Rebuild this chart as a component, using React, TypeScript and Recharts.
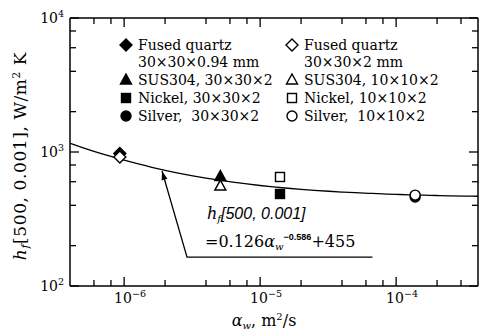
import React from 'react';
import { ScatterChart, Scatter, XAxis, YAxis, Customized } from 'recharts';

// Fitted correlation: h = 0.126 * a^-0.586 + 455
const FIT_COEF = 0.126;
const FIT_EXP = -0.586;
const FIT_OFFSET = 455;

const X_DOMAIN: [number, number] = [4e-7, 4e-4];
const Y_DOMAIN: [number, number] = [1e2, 1e4];

const xTicks = [6e-7, 8e-7, 1e-6, 2e-6, 4e-6, 6e-6, 8e-6, 1e-5, 2e-5, 4e-5, 6e-5, 8e-5, 1e-4, 2e-4, 3e-4];
const yTicks = [1e2, 2e2, 4e2, 6e2, 8e2, 1e3, 2e3, 4e3, 6e3, 8e3, 1e4];
const xMajor = [
  { value: 1e-6, exp: '−6' },
  { value: 1e-5, exp: '−5' },
  { value: 1e-4, exp: '−4' },
];
const yMajor = [
  { value: 1e2, exp: '2' },
  { value: 1e3, exp: '3' },
  { value: 1e4, exp: '4' },
];

// Measured points (a in m^2/s, h in W/m^2K)
const quartzThin = [{ a: 9.3e-7, h: 975 }];
const quartzThick = [{ a: 9.3e-7, h: 918 }];
const sus30 = [{ a: 5.1e-6, h: 656 }];
const sus10 = [{ a: 5.1e-6, h: 557 }];
const nickel30 = [{ a: 1.4e-5, h: 486 }];
const nickel10 = [{ a: 1.4e-5, h: 651 }];
const silver30 = [{ a: 1.38e-4, h: 462 }];
const silver10 = [{ a: 1.38e-4, h: 477 }];

// Sample abscissae for the fitted curve
const curveA = [
  4e-7, 5e-7, 6e-7, 7e-7, 8e-7, 1e-6, 1.25e-6, 1.6e-6, 2e-6, 2.5e-6, 3.2e-6, 4e-6, 5e-6,
  6.3e-6, 8e-6, 1e-5, 1.25e-5, 1.6e-5, 2e-5, 2.5e-5, 3.2e-5, 4e-5, 5e-5, 6.3e-5, 8e-5,
  1e-4, 1.25e-4, 1.6e-4, 2e-4, 2.5e-4, 3.2e-4, 4e-4,
];
const fitCurve = curveA.map((a) => ({ a, h: FIT_COEF * Math.pow(a, FIT_EXP) + FIT_OFFSET }));

// Leader line from the equation box to the curve (arrow tip first)
const leader = [
  { a: 1.9e-6, h: 721 },
  { a: 2.9e-6, h: 164 },
  { a: 6.7e-5, h: 164 },
];

const SERIF = "'DejaVu Serif', 'Liberation Serif', serif";
const SANS = "'Liberation Sans', 'DejaVu Sans', sans-serif";

type Kind = 'diamond' | 'triangle' | 'square' | 'circle';

function markerPath(kind: Kind, cx: number, cy: number, filled: boolean) {
  const fill = filled ? '#000' : '#fff';
  const common = { fill, stroke: '#000', strokeWidth: 1.4 };
  if (kind === 'diamond') {
    const r = 6;
    return <polygon points={`${cx},${cy - r} ${cx + r},${cy} ${cx},${cy + r} ${cx - r},${cy}`} {...common} />;
  }
  if (kind === 'triangle') {
    return <polygon points={`${cx},${cy - 6} ${cx + 5.5},${cy + 4} ${cx - 5.5},${cy + 4}`} {...common} />;
  }
  if (kind === 'square') {
    return <rect x={cx - 4.5} y={cy - 4.5} width={9} height={9} {...common} />;
  }
  return <circle cx={cx} cy={cy} r={5} {...common} />;
}

const shapeOf = (kind: Kind, filled: boolean) => (props: any) =>
  props.cx == null ? <g /> : markerPath(kind, props.cx, props.cy, filled);

const noShape = () => <g />;

const findMajor = (list: { value: number; exp: string }[], v: number) =>
  list.find((m) => Math.abs(m.value - v) / m.value < 1e-6);

const tickLen = (major: boolean) => (major ? 9 : 6);

const BottomTick = (props: any) => {
  const { x, y, payload } = props;
  const m = findMajor(xMajor, payload.value);
  return (
    <g>
      <line x1={x} x2={x} y1={y} y2={y - tickLen(!!m)} stroke="#000" strokeWidth={1.3} />
      {m && (
        <text x={x - 10} y={y + 17} fontFamily={SERIF} fontSize={14} fill="#000">
          10
          <tspan dy={-6} fontSize={9.5}>{m.exp}</tspan>
        </text>
      )}
    </g>
  );
};

const TopTick = (props: any) => {
  const { x, y, payload } = props;
  const m = findMajor(xMajor, payload.value);
  return <line x1={x} x2={x} y1={y} y2={y + tickLen(!!m)} stroke="#000" strokeWidth={1.3} />;
};

const LeftTick = (props: any) => {
  const { x, y, payload } = props;
  const m = findMajor(yMajor, payload.value);
  return (
    <g>
      <line x1={x} x2={x + tickLen(!!m)} y1={y} y2={y} stroke="#000" strokeWidth={1.3} />
      {m && (
        <text x={x - 6} y={y + 5} fontFamily={SERIF} fontSize={14} fill="#000" textAnchor="end">
          10
          <tspan dy={-6} fontSize={9.5}>{m.exp}</tspan>
        </text>
      )}
    </g>
  );
};

const RightTick = (props: any) => {
  const { x, y, payload } = props;
  const m = findMajor(yMajor, payload.value);
  return <line x1={x} x2={x - tickLen(!!m)} y1={y} y2={y} stroke="#000" strokeWidth={1.3} />;
};

const LeaderLine = (props: any) => {
  const pts: { x: number; y: number }[] = props.points || [];
  if (pts.length < 2) return <g />;
  const d = pts.map((p, i) => `${i === 0 ? 'M' : 'L'}${p.x},${p.y}`).join(' ');
  const [p0, p1] = pts;
  const ang = Math.atan2(p0.y - p1.y, p0.x - p1.x);
  const L = 9;
  const W = 3;
  const bx = p0.x - L * Math.cos(ang);
  const by = p0.y - L * Math.sin(ang);
  const nx = -Math.sin(ang) * W;
  const ny = Math.cos(ang) * W;
  return (
    <g>
      <path d={d} fill="none" stroke="#000" strokeWidth={1.3} />
      <polygon points={`${p0.x},${p0.y} ${bx + nx},${by + ny} ${bx - nx},${by - ny}`} fill="#000" />
    </g>
  );
};

const legendRows: { kind: Kind; left: string[]; right: string[]; y: number }[] = [
  { kind: 'diamond', left: ['Fused quartz', '30×30×0.94 mm'], right: ['Fused quartz', '30×30×2 mm'], y: 45 },
  { kind: 'triangle', left: ['SUS304, 30×30×2'], right: ['SUS304, 10×10×2'], y: 80 },
  { kind: 'square', left: ['Nickel, 30×30×2'], right: ['Nickel, 10×10×2'], y: 98 },
  { kind: 'circle', left: ['Silver,  30×30×2'], right: ['Silver,  10×10×2'], y: 116 },
];

const Overlay = () => (
  <g fill="#000">
    {legendRows.map((r) => (
      <g key={r.kind}>
        {markerPath(r.kind, 126, r.y, true)}
        {r.left.map((t, i) => (
          <text key={i} x={138} y={r.y + 5 + i * 17} fontSize={14} fontFamily={SERIF} xmlSpace="preserve">
            {t}
          </text>
        ))}
        {markerPath(r.kind, 292, r.y, false)}
        {r.right.map((t, i) => (
          <text key={i} x={304} y={r.y + 5 + i * 17} fontSize={14} fontFamily={SERIF} xmlSpace="preserve">
            {t}
          </text>
        ))}
      </g>
    ))}
    <text x={207} y={219} fontSize={16} fontFamily={SERIF}>
      <tspan fontStyle="italic">h</tspan>
      <tspan fontStyle="italic" fontSize={10} dy={3}>f</tspan>
      <tspan dy={-3} fontFamily={SANS} fontStyle="italic" fontSize={16}>[500, 0.001]</tspan>
    </text>
    <text x={205} y={247} fontSize={16} fontFamily={SERIF}>
      =0.126
      <tspan fontStyle="italic">α</tspan>
      <tspan fontStyle="italic" fontSize={10} dy={3}>w</tspan>
      <tspan dy={-10} fontSize={9} fontFamily={SANS} fontWeight="bold">−0.586</tspan>
      <tspan dy={7}>+455</tspan>
    </text>
    <text x={264} y={326} fontSize={16} fontFamily={SERIF} textAnchor="middle">
      <tspan fontStyle="italic">α</tspan>
      <tspan fontStyle="italic" fontSize={10} dy={3}>w</tspan>
      <tspan dy={-3}>, m</tspan>
      <tspan dy={-6} fontSize={10}>2</tspan>
      <tspan dy={6}>/s</tspan>
    </text>
    <text
      transform="translate(26,156) rotate(-90)"
      fontSize={17}
      fontFamily={SERIF}
      textAnchor="middle"
      letterSpacing={0.6}
    >
      <tspan fontStyle="italic">h</tspan>
      <tspan fontStyle="italic" fontSize={11} dy={3}>f</tspan>
      <tspan dy={-3}>[500, 0.001], W/m</tspan>
      <tspan dy={-6} fontSize={10.5}>2</tspan>
      <tspan dy={6}> K</tspan>
    </text>
  </g>
);

const axisLine = { stroke: '#000', strokeWidth: 1.5 };

export default function App() {
  return (
    <div style={{ position: 'absolute', left: 0, top: 0, width: 480, height: 334, background: '#fff' }}>
      <ScatterChart width={480} height={334} margin={{ top: 17, right: 1, bottom: 47, left: 69 }}>
        <XAxis
          dataKey="a"
          type="number"
          scale="log"
          domain={X_DOMAIN}
          allowDataOverflow
          ticks={xTicks}
          interval={0}
          tick={<BottomTick />}
          tickLine={false}
          tickSize={0}
          tickMargin={0}
          height={1}
          axisLine={axisLine}
        />
        <XAxis
          xAxisId="top"
          orientation="top"
          dataKey="a"
          type="number"
          scale="log"
          domain={X_DOMAIN}
          allowDataOverflow
          ticks={xTicks}
          interval={0}
          tick={<TopTick />}
          tickLine={false}
          tickSize={0}
          tickMargin={0}
          height={1}
          axisLine={axisLine}
        />
        <YAxis
          dataKey="h"
          type="number"
          scale="log"
          domain={Y_DOMAIN}
          allowDataOverflow
          ticks={yTicks}
          interval={0}
          tick={<LeftTick />}
          tickLine={false}
          tickSize={0}
          tickMargin={0}
          width={1}
          axisLine={axisLine}
        />
        <YAxis
          yAxisId="right"
          orientation="right"
          dataKey="h"
          type="number"
          scale="log"
          domain={Y_DOMAIN}
          allowDataOverflow
          ticks={yTicks}
          interval={0}
          tick={<RightTick />}
          tickLine={false}
          tickSize={0}
          tickMargin={0}
          width={1}
          axisLine={axisLine}
        />
        <Scatter data={fitCurve} xAxisId="top" yAxisId="right" shape={noShape} isAnimationActive={false} />
        <Scatter
          data={fitCurve}
          shape={noShape}
          line={{ stroke: '#000', strokeWidth: 1.3 }}
          lineJointType="monotoneX"
          isAnimationActive={false}
        />
        <Scatter data={leader} shape={noShape} line={LeaderLine} isAnimationActive={false} />
        <Scatter data={quartzThin} shape={shapeOf('diamond', true)} isAnimationActive={false} />
        <Scatter data={quartzThick} shape={shapeOf('diamond', false)} isAnimationActive={false} />
        <Scatter data={sus10} shape={shapeOf('triangle', false)} isAnimationActive={false} />
        <Scatter data={sus30} shape={shapeOf('triangle', true)} isAnimationActive={false} />
        <Scatter data={nickel30} shape={shapeOf('square', true)} isAnimationActive={false} />
        <Scatter data={nickel10} shape={shapeOf('square', false)} isAnimationActive={false} />
        <Scatter data={silver30} shape={shapeOf('circle', true)} isAnimationActive={false} />
        <Scatter data={silver10} shape={shapeOf('circle', false)} isAnimationActive={false} />
        <Customized component={<Overlay />} />
      </ScatterChart>
    </div>
  );
}
